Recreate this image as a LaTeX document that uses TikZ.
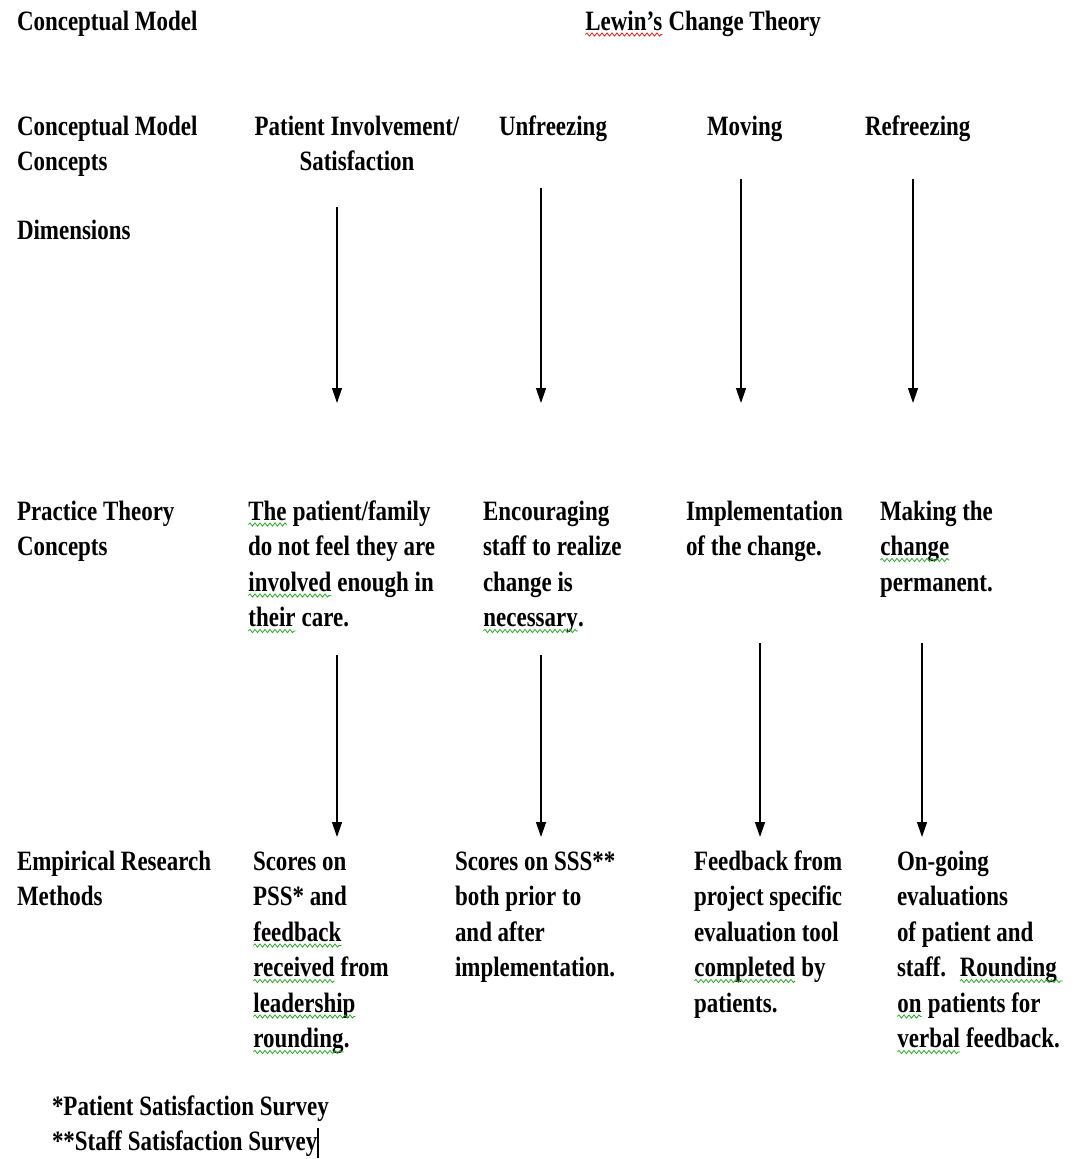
\documentclass[tikz,border=0pt]{standalone}
\usepackage{fontspec}
\newfontfamily\dfont{Liberation Serif}[FakeStretch=0.82]
\usetikzlibrary{arrows.meta,decorations.pathmorphing}
\definecolor{sqgreen}{RGB}{40,170,40}
\definecolor{sqred}{RGB}{230,30,30}
\tikzset{
  txt/.style={anchor=north west, inner sep=0pt, outer sep=0pt, align=left,
    font=\dfont\bfseries\fontsize{28}{35.5}\selectfont, yshift=24.85pt},
  txtc/.style={txt, anchor=north, align=center},
  flow/.style={line width=1.3pt, -{Triangle[length=15pt,width=10pt]}},
  sqline/.style={line width=0.8pt, decorate,
    decoration={snake, amplitude=1.6pt, segment length=5pt}},
  cursor/.style={line width=2pt}
}
\newcommand\sqmark[2]{\tikz[baseline=(sqw.base)]{\node[inner sep=0pt,outer sep=0pt,anchor=base](sqw){#2};\draw[sqline,#1]([yshift=-4.5pt]sqw.base west)--([yshift=-4.5pt]sqw.base east);}}
\newcommand\sqg[1]{\sqmark{sqgreen}{#1}}
\newcommand\sqr[1]{\sqmark{sqred}{#1}}
\begin{document}
\begin{tikzpicture}[x=1pt,y=-1pt]
\useasboundingbox (0,0) rectangle (1075,1159);
\fill[white] (0,0) rectangle (1075,1159);

% headers
\node[txt] (cm1) at (17,30) {\strut Conceptual Model};
\node[txt] (lct) at (585,30) {\strut \sqr{Lewin’s} Change Theory};
\node[txt] (cm2) at (17,135) {\strut Conceptual Model\\Concepts};
\node[txtc] (piv) at (357,135) {\strut Patient Involvement/\\Satisfaction};
\node[txt] (unf) at (499,135) {\strut Unfreezing};
\node[txt] (mov) at (707,135) {\strut Moving};
\node[txt] (ref) at (865,135) {\strut Refreezing};
\node[txt] (dim) at (17,239) {\strut Dimensions};

% practice theory
\node[txt] (ptc) at (17,520) {\strut Practice Theory\\Concepts};
\node[txt] (p1) at (248,520) {\strut \sqg{The} patient/family\\do not feel they are\\\sqg{involved} enough in\\\sqg{their} care.};
\node[txt] (p2) at (483,520) {\strut Encouraging\\staff to realize\\change is\\\sqg{necessary}.};
\node[txt] (p3) at (686,520) {\strut Implementation\\of the change.};
\node[txt] (p4) at (880,520) {\strut Making the\\\sqg{change}\\permanent.};

% empirical
\node[txt] (erm) at (17,870) {\strut Empirical Research\\Methods};
\node[txt] (e1) at (253,870) {\strut Scores on\\PSS* and\\\sqg{feedback}\\\sqg{received} from\\\sqg{leadership}\\\sqg{rounding}.};
\node[txt] (e2) at (455,870) {\strut Scores on SSS**\\both prior to\\and after\\implementation.};
\node[txt] (e3) at (694,870) {\strut Feedback from\\project specific\\evaluation tool\\\sqg{completed} by\\patients.};
\node[txt] (e4) at (897,870) {\strut On-going\\evaluations\\of patient and\\staff.~ \sqg{Rounding~}\\\sqg{on} patients for\\\sqg{verbal} feedback.};

% footnotes
\node[txt] (fn) at (52,1115) {\strut *Patient Satisfaction Survey\\**Staff Satisfaction Survey};

% arrow end points
\coordinate (a1s) at (337,207); \coordinate (a1e) at (337,403);
\coordinate (a2s) at (541,188); \coordinate (a2e) at (541,403);
\coordinate (a3s) at (741,179); \coordinate (a3e) at (741,403);
\coordinate (a4s) at (913,179); \coordinate (a4e) at (913,403);
\coordinate (b1s) at (337,655); \coordinate (b1e) at (337,837);
\coordinate (b2s) at (541,655); \coordinate (b2e) at (541,837);
\coordinate (b3s) at (760,643); \coordinate (b3e) at (760,837);
\coordinate (b4s) at (922,643); \coordinate (b4e) at (922,837);
\foreach \k in {a1,a2,a3,a4,b1,b2,b3,b4} {\draw[flow] (\k s) -- (\k e);}

% text cursor
\coordinate (cur1) at (318,1128); \coordinate (cur2) at (318,1158);
\draw[cursor] (cur1) -- (cur2);
\end{tikzpicture}
\end{document}
